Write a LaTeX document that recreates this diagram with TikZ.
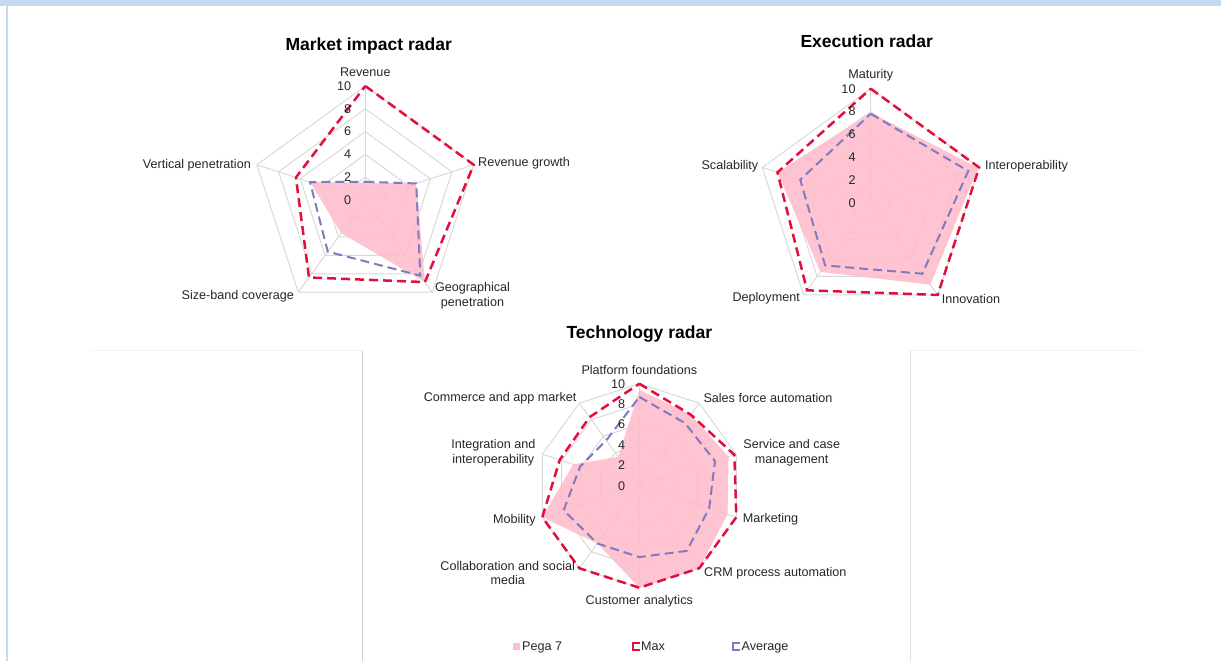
\documentclass[tikz,border=0pt]{standalone}
\usepackage{fontspec}
\setmainfont{Liberation Sans}
\usepackage{tikz}

\definecolor{maxred}{RGB}{225,15,60}
\definecolor{avgblue}{RGB}{128,122,192}
\definecolor{pegapink}{RGB}{255,188,204}
\definecolor{gridgray}{RGB}{217,217,217}
\definecolor{bandblue}{RGB}{198,217,241}

\tikzset{
  axislabel/.style={font=\fontsize{12.6}{14.5}\selectfont, inner sep=0pt, text=black!85},
  ticklabel/.style={font=\fontsize{12.6}{14.5}\selectfont, inner sep=0pt, anchor=east, text=black!85},
  charttitle/.style={font=\fontsize{17.5}{20}\selectfont\bfseries, inner sep=0pt},
  gridline/.style={draw=gridgray, line width=1pt},
  pegafill/.style={fill=pegapink, fill opacity=0.88, draw=none},
  maxline/.style={draw=maxred, line width=2.5pt, dash pattern=on 9pt off 5pt},
  avgline/.style={draw=avgblue, line width=2pt, dash pattern=on 9pt off 5pt},
}

\begin{document}
\begin{tikzpicture}[x=1pt, y=-1pt]
\useasboundingbox (0,0) rectangle (1221,661);

%% page frame
\fill[bandblue] (0,0) rectangle (1221,6);
\draw[bandblue, line width=1.5pt] (7,6) -- (7,661);
\draw[black!5] (92,350.5) -- (362,350.5);
\draw[black!20] (362,350.5) -- (362,661);
\draw[black!5] (910,350.5) -- (1141,350.5);
\draw[black!12] (910,350.5) -- (910,661);

%% market impact radar
\node[charttitle] (mtitle) at (368.7,46) {Market impact radar};
\begin{scope}[shift={(365.3,200)}]
  \foreach \r in {2,4,...,10}
    \draw[gridline] (-90:{11.4*\r}) \foreach \i in {1,...,4} { -- ({-90+72*\i}:{11.4*\r}) } -- cycle;
  \foreach \i in {0,...,4}
    \draw[gridline] (0,0) -- ({-90+72*\i}:114);

  \foreach \v [count=\i from 0] in {1.5,4.7,8.9,3.6,5.1}
    \coordinate (mp\i) at ({-90+72*\i}:{11.4*\v});
  \foreach \v [count=\i from 0] in {1.6,4.7,8.2,5.6,5.1}
    \coordinate (ma\i) at ({-90+72*\i}:{11.4*\v});
  \foreach \v [count=\i from 0] in {10,10,8.9,8.4,6.4}
    \coordinate (mm\i) at ({-90+72*\i}:{11.4*\v});

  \fill[pegafill] (mp0) -- (mp1) -- (mp2) -- (mp3) -- (mp4) -- cycle;
  \draw[maxline] (mm0) -- (mm1) -- (mm2) -- (mm3) -- (mm4) -- cycle;
  \draw[avgline] (ma0) -- (ma1) -- (ma2) -- (ma3) -- (ma4) -- cycle;

  \foreach \t in {0,2,...,10}
    \node[ticklabel] (mtick\t) at (-14,{-11.4*\t}) {\t};
\end{scope}
\node[axislabel] (mrev) at (365.3,72.5) {Revenue};
\node[axislabel, anchor=west] (mgrowth) at (478,163.5) {Revenue growth};
\node[axislabel, align=center] (mgeo) at (472.5,295.5) {Geographical\\penetration};
\node[axislabel, anchor=east] (msize) at (294,296) {Size-band coverage};
\node[axislabel, anchor=east] (mvert) at (251,165) {Vertical penetration};

%% execution radar
\node[charttitle] (etitle) at (866.7,41.5) {Execution radar};
\begin{scope}[shift={(870.7,202.7)}]
  \foreach \r in {2,4,...,10}
    \draw[gridline] (-90:{11.4*\r}) \foreach \i in {1,...,4} { -- ({-90+72*\i}:{11.4*\r}) } -- cycle;
  \foreach \i in {0,...,4}
    \draw[gridline] (0,0) -- ({-90+72*\i}:114);

  \foreach \v [count=\i from 0] in {7.9,9.9,8.9,7.5,8.6}
    \coordinate (ep\i) at ({-90+72*\i}:{11.4*\v});
  \foreach \v [count=\i from 0] in {7.8,9.0,7.7,6.8,6.5}
    \coordinate (ea\i) at ({-90+72*\i}:{11.4*\v});
  \foreach \v [count=\i from 0] in {10,10,10,9.5,8.6}
    \coordinate (em\i) at ({-90+72*\i}:{11.4*\v});

  \fill[pegafill] (ep0) -- (ep1) -- (ep2) -- (ep3) -- (ep4) -- cycle;
  \draw[maxline] (em0) -- (em1) -- (em2) -- (em3) -- (em4) -- cycle;
  \draw[avgline] (ea0) -- (ea1) -- (ea2) -- (ea3) -- (ea4) -- cycle;

  \foreach \t in {0,2,...,10}
    \node[ticklabel] (etick\t) at (-15,{-11.4*\t}) {\t};
\end{scope}
\node[axislabel] (emat) at (870.7,75) {Maturity};
\node[axislabel, anchor=west] (einter) at (985,166.7) {Interoperability};
\node[axislabel, anchor=west] (einno) at (941.7,298.5) {Innovation};
\node[axislabel, anchor=east] (edepl) at (800,298.5) {Deployment};
\node[axislabel, anchor=east] (escal) at (758.5,166.7) {Scalability};

%% technology radar
\node[charttitle] (ttitle) at (639.3,334.5) {Technology radar};
\begin{scope}[shift={(639.3,485.7)}]
  \foreach \r in {2,4,...,10}
    \draw[gridline] (-90:{10.2*\r}) \foreach \i in {1,...,9} { -- ({-90+36*\i}:{10.2*\r}) } -- cycle;
  \foreach \i in {0,...,9}
    \draw[gridline] (0,0) -- ({-90+36*\i}:102);

  \foreach \v [count=\i from 0] in {9.4,8.6,9.2,9.1,10,10,7.0,10,6.8,3.5}
    \coordinate (tp\i) at ({-90+36*\i}:{10.2*\v});
  \foreach \v [count=\i from 0] in {8.7,7.6,7.8,7.2,7.9,7.0,7.0,7.8,6.1,5.5}
    \coordinate (ta\i) at ({-90+36*\i}:{10.2*\v});
  \foreach \v [count=\i from 0] in {10,8.6,9.8,10,10,10,10,10,8.2,8.3}
    \coordinate (tm\i) at ({-90+36*\i}:{10.2*\v});

  \fill[pegafill] (tp0) \foreach \i in {1,...,9} { -- (tp\i) } -- cycle;
  \draw[maxline] (tm0) \foreach \i in {1,...,9} { -- (tm\i) } -- cycle;
  \draw[avgline] (ta0) \foreach \i in {1,...,9} { -- (ta\i) } -- cycle;

  \foreach \t in {0,2,...,10}
    \node[ticklabel] (ttick\t) at (-14,{-10.2*\t}) {\t};
\end{scope}
\node[axislabel] (tplat) at (639.3,370) {Platform foundations};
\node[axislabel, anchor=west] (tsales) at (703.3,398.3) {Sales force automation};
\node[axislabel, align=center] (tserv) at (791.7,452.5) {Service and case\\management};
\node[axislabel, anchor=west] (tmark) at (742.7,519.5) {Marketing};
\node[axislabel, anchor=west] (tcrm) at (704,573.5) {CRM process automation};
\node[axislabel] (tcust) at (639.3,601.7) {Customer analytics};
\node[axislabel, align=center] (tcoll) at (507.7,573) {Collaboration and social\\media};
\node[axislabel, anchor=east] (tmob) at (536,520) {Mobility};
\node[axislabel, align=center] (tinteg) at (493.3,452.5) {Integration and\\interoperability};
\node[axislabel, anchor=east] (tcomm) at (576.7,398.3) {Commerce and app market};

%% legend
\fill[pegapink] (513,642.5) rectangle (520,649.5);
\node[axislabel, anchor=base west] (legpega) at (522,650.5) {Pega 7};
\draw[maxred, line width=2pt] (639.5,642.5) -- (633,642.5) -- (633,649.5) -- (640,649.5);
\node[axislabel, anchor=base west] (legmax) at (641,650.5) {Max};
\draw[avgblue, line width=2pt] (739.5,642.5) -- (733,642.5) -- (733,649.5) -- (740,649.5);
\node[axislabel, anchor=base west] (legavg) at (741.5,650.5) {Average};

\end{tikzpicture}
\end{document}
